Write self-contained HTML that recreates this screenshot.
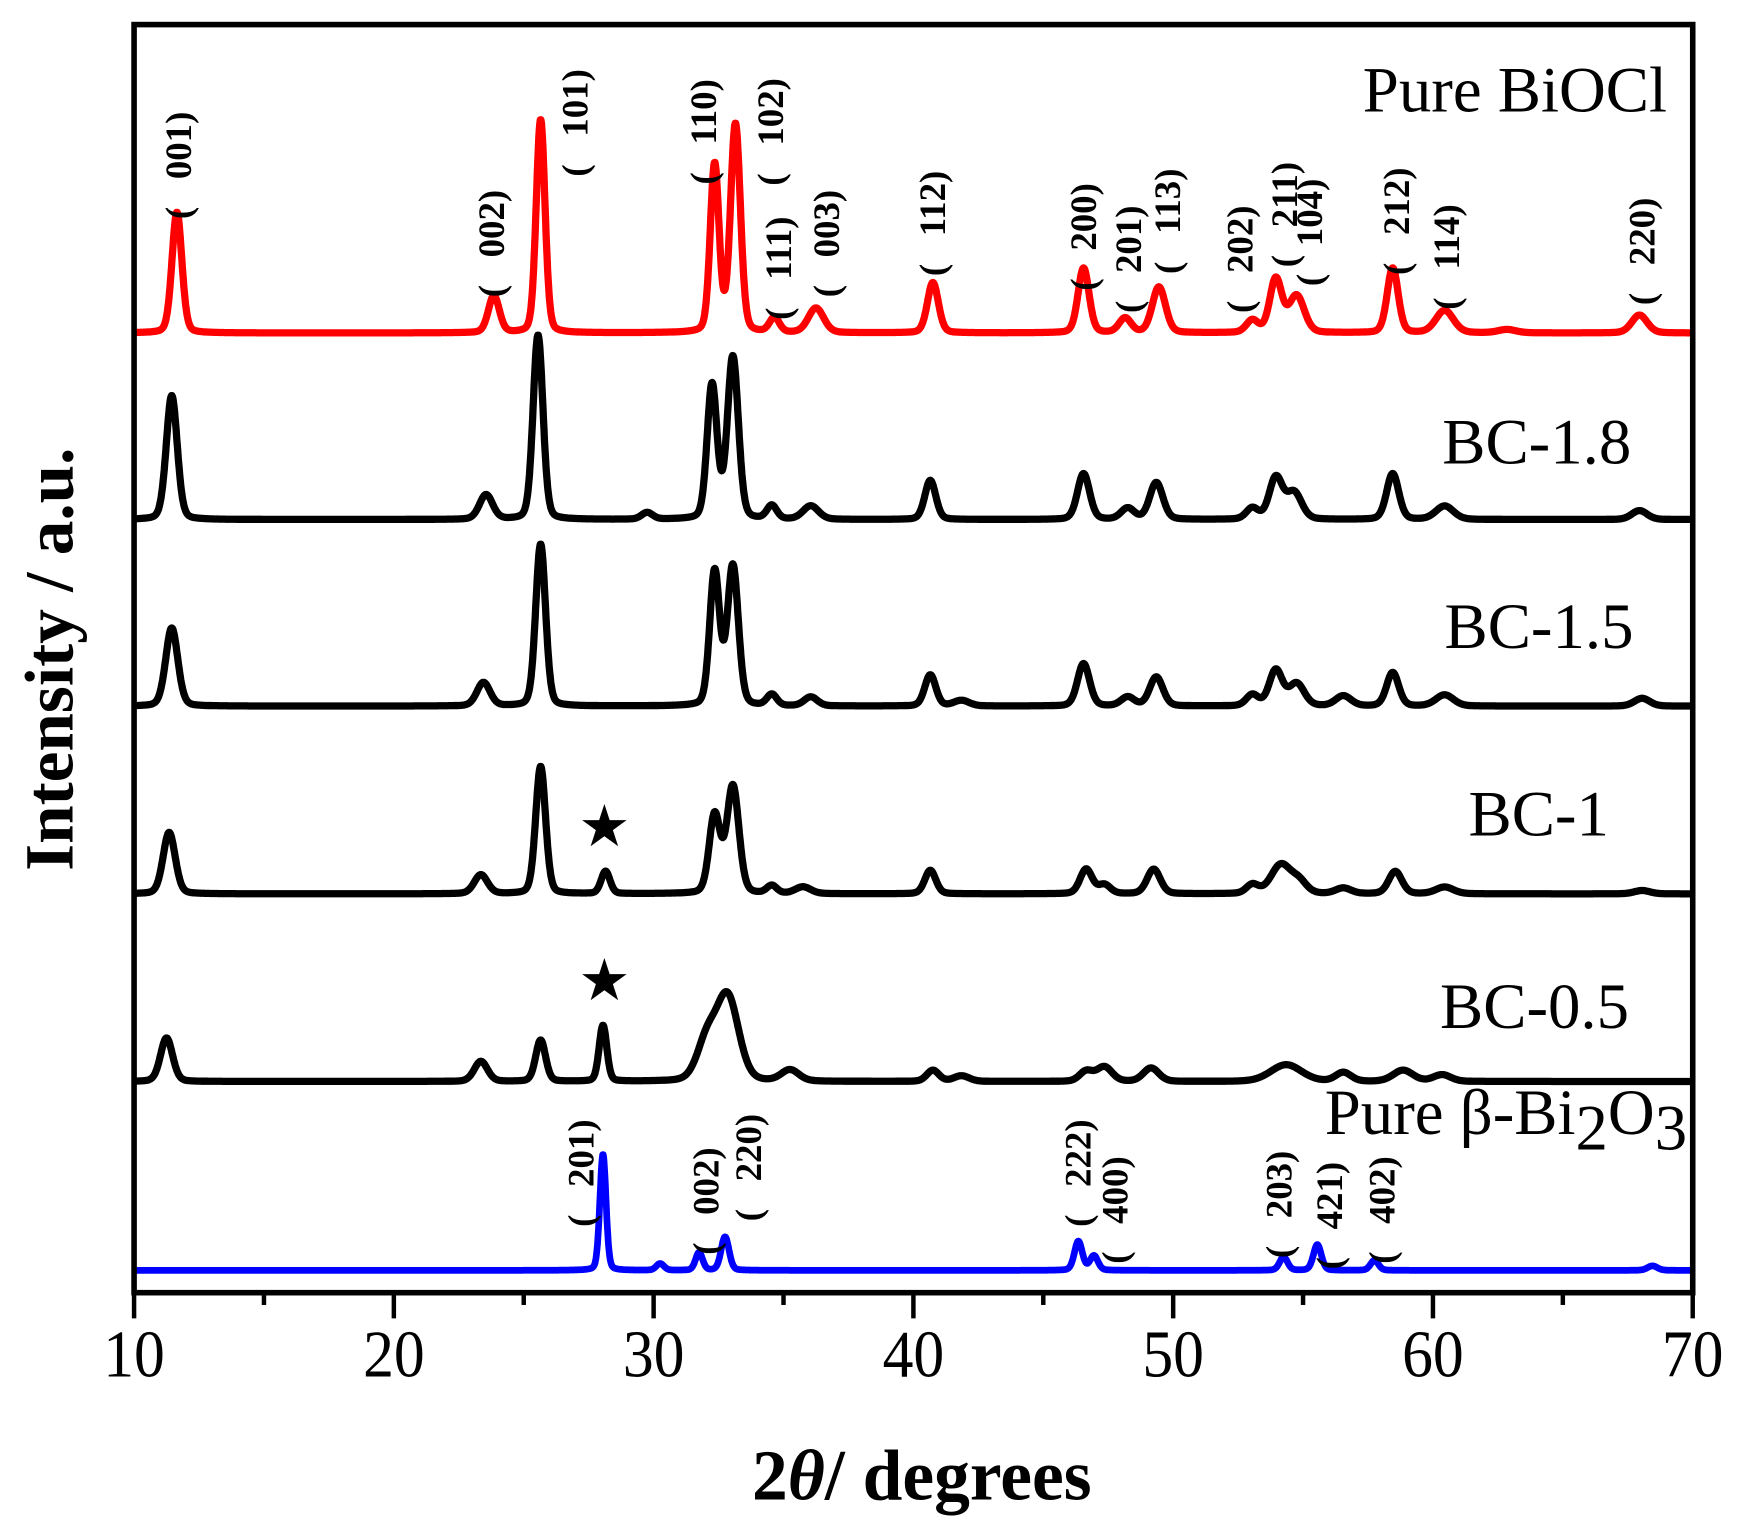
<!DOCTYPE html>
<html><head><meta charset="utf-8"><style>
html,body{margin:0;padding:0;background:#fff}
svg{display:block}
text{font-family:"Liberation Serif",serif}
#labels text{white-space:pre}
</style></head><body>
<svg id="s" width="1743" height="1530" viewBox="0 0 1560 1369.4" preserveAspectRatio="none" xmlns="http://www.w3.org/2000/svg">
<g id="series"></g>
<rect x="120" y="22" width="1395" height="1135" fill="none" stroke="#000" stroke-width="5"/>
<g stroke="#000" stroke-width="4" id="ticks"></g>
<g font-size="60" text-anchor="middle" transform="scale(0.92 1)">
<text x="130.4" y="1232">10</text><text x="383.2" y="1232">20</text><text x="635.9" y="1232">30</text><text x="888.6" y="1232">40</text><text x="1141.3" y="1232">50</text><text x="1394" y="1232">60</text><text x="1646.7" y="1232">70</text>
</g>
<text x="825" y="1342" font-size="64" font-weight="bold" text-anchor="middle">2<tspan font-style="italic">θ</tspan>/ degrees</text>
<text transform="translate(65 590) rotate(-90)" font-size="62" font-weight="bold" text-anchor="middle">Intensity / a.u.</text>
<g font-size="58" text-anchor="end">
<text x="1492" y="100">Pure BiOCl</text>
<text x="1460" y="415">BC-1.8</text>
<text x="1462" y="580">BC-1.5</text>
<text x="1440" y="748">BC-1</text>
<text x="1458" y="920">BC-0.5</text>
<text x="1510" y="1015">Pure β-Bi<tspan dy="14">2</tspan><tspan dy="-14">O</tspan><tspan dy="14">3</tspan></text>
</g>
<g font-size="52" text-anchor="middle"><text x="541" y="757">★</text><text x="541" y="895">★</text></g>
<g id="labels" font-size="33" font-weight="bold" text-anchor="middle"></g>
</svg>
<script>
var NS="http://www.w3.org/2000/svg";
function X(t){return 120+(t-10)*23.25;}
var ticks=document.getElementById('ticks');
for(var t=10;t<=70;t+=5){var l=document.createElementNS(NS,'line');var x=X(t);l.setAttribute('x1',x);l.setAttribute('x2',x);l.setAttribute('y1',1157);l.setAttribute('y2',t%10==0?1180:1168);ticks.appendChild(l);}
var S=[
{b:298,c:'#ff0000',w:6.5,p:[[11.8,108,.45],[24.0,33,.5],[25.8,191,.4],[32.5,150,.4],[33.3,186,.45],[34.8,13,.45],[36.4,22,.7],[40.9,45,.5],[46.7,58,.5],[48.3,13,.55],[49.6,41,.6],[53.2,11,.55],[54.1,48,.55],[54.9,33,.7],[58.6,58,.5],[60.6,20,.8],[63,3,.8],[68.1,16,.7]]},
{b:465,c:'#000',w:6.5,p:[[11.6,111,.5],[23.7,22,.6],[25.7,165,.45],[29.9,6,.5],[32.4,120,.45],[33.2,145,.5],[34.7,12,.45],[36.2,12,.7],[40.8,35,.5],[46.7,41,.55],[48.4,10,.6],[49.5,33,.6],[53.2,10,.55],[54.1,37,.6],[54.8,24,.7],[58.6,41,.55],[60.6,12,.8],[68.1,8,.7]]},
{b:632,c:'#000',w:6.5,p:[[11.6,70,.55],[23.6,21,.6],[25.8,145,.45],[32.5,120,.45],[33.2,125,.5],[34.7,10,.45],[36.2,8,.6],[40.8,28,.5],[42,5,.7],[46.7,38,.55],[48.4,8,.6],[49.5,26,.6],[53.2,10,.55],[54.1,32,.6],[54.9,20,.7],[56.7,9,.7],[58.6,30,.55],[60.6,10,.8],[68.2,7,.7]]},
{b:800,c:'#000',w:6.5,p:[[11.5,55,.55],[23.5,17,.6],[25.8,114,.45],[28.3,20,.4],[32.5,70,.5],[33.2,96,.55],[34.7,7,.45],[35.9,6,.7],[40.8,21,.5],[46.8,22,.55],[47.5,8,.55],[49.4,22,.6],[53.2,8,.55],[54.3,26,.9],[55,10,.7],[56.7,5,.7],[58.7,20,.6],[60.6,6,.8],[68.2,3,.7]]},
{b:968,c:'#000',w:6.5,p:[[11.4,39,.55],[23.5,18,.6],[25.8,37,.45],[28.2,50,.35],[32.2,35,.9],[33.0,75,1.0],[35.4,10,.8],[40.9,10,.55],[42,5,.7],[46.8,9,.6],[47.5,13,.7],[49.3,12,.7],[54.5,15,1.4],[56.7,8,.7],[59,10,.9],[60.5,6,.8]]},
{b:1137,c:'#0000ff',w:6,p:[[28.2,104,.28],[30.4,6,.35],[31.9,16,.32],[32.9,30,.36],[46.5,26,.36],[47.1,13,.36],[54.4,12,.36],[55.7,23,.36],[57.9,9,.36],[68.6,4,.45]]}
];
var g=document.getElementById('series');
S.forEach(function(s){
 var d='';
 for(var t=10;t<=70.001;t+=0.02){
  var y=0;
  s.p.forEach(function(p){var u=(t-(p[0]-0.15))/(p[2]/2);y+=p[1]*(0.8*Math.exp(-0.693*u*u)+0.2/(1+u*u));});
  d+=(d?'L':'M')+X(t).toFixed(1)+' '+(s.b-y).toFixed(1);
 }
 var pa=document.createElementNS(NS,'path');pa.setAttribute('d',d);pa.setAttribute('fill','none');pa.setAttribute('stroke',s.c);pa.setAttribute('stroke-width',s.w);pa.setAttribute('stroke-linejoin','round');g.appendChild(pa);
});
var L=[['001',160,148],['002',440,218],['101',515,110],['110',630,118],['102',690,118],['111',697,240],['003',740,218],['112',835,200],['200',970,212],['201',1010,232],['113',1045,198],['202',1110,232],['211',1150,192],['104',1172,208],['212',1250,198],['114',1295,230],['220',1470,225],
['201',520,1050],['002',632,1075],['220',670,1045],['222',965,1050],['400',998,1083],['203',1145,1078],['421',1190,1088],['402',1237,1083]];
var lg=document.getElementById('labels');
L.forEach(function(a){var t=document.createElementNS(NS,'text');t.setAttribute('transform','translate('+(a[1]+11)+' '+a[2]+') rotate(-90)');t.textContent='(   '+a[0]+')';lg.appendChild(t);});
</script>
</body></html>
